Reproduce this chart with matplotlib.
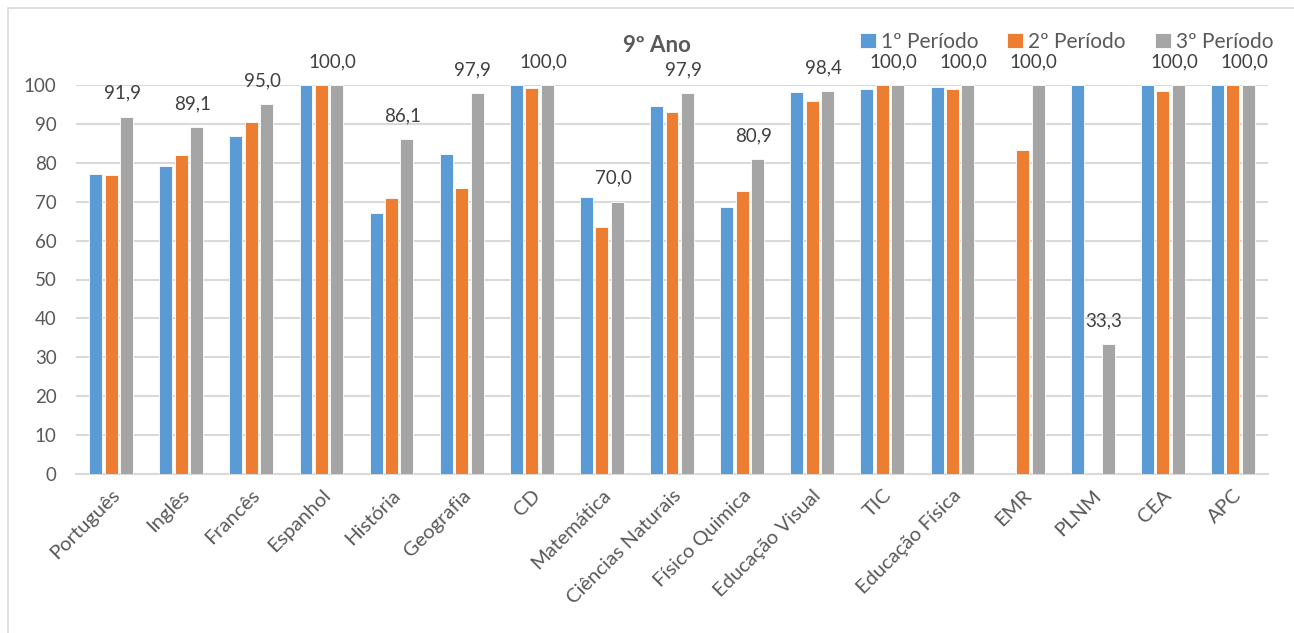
import numpy as np
import matplotlib
matplotlib.use("Agg")
import matplotlib.pyplot as plt
from matplotlib.patches import Rectangle

categories = ["Português", "Inglês", "Francês", "Espanhol", "História", "Geografia",
              "CD", "Matemática", "Ciências Naturais", "Físico Quimica", "Educação Visual",
              "TIC", "Educação Física", "EMR", "PLNM", "CEA", "APC"]
periodo1 = [77.1, 79.1, 86.8, 100.0, 67.0, 82.3, 100.0, 71.2, 94.6, 68.6, 98.3,
            99.0, 99.5, np.nan, 100.0, 100.0, 100.0]
periodo2 = [76.8, 82.0, 90.5, 100.0, 71.0, 73.4, 99.2, 63.4, 93.0, 72.7, 95.8,
            100.0, 99.0, 83.3, np.nan, 98.5, 100.0]
periodo3 = [91.9, 89.1, 95.0, 100.0, 86.1, 97.9, 100.0, 70.0, 97.9, 80.9, 98.4,
            100.0, 100.0, 100.0, 33.3, 100.0, 100.0]
series_names = ["1º Período", "2º Período", "3º Período"]
colors = ["#5B9BD5", "#ED7D31", "#A5A5A5"]
yticks = [0, 10, 20, 30, 40, 50, 60, 70, 80, 90, 100]

plt.rcParams['font.family'] = ['Lato', 'DejaVu Sans']
txt = "#595959"

fig = plt.figure(figsize=(12.94, 6.33), dpi=100)
fig.patches.append(Rectangle((8/1294, -0.1), 1.2, 1 - 8/633 + 0.1, transform=fig.transFigure,
                             facecolor="none", edgecolor="#D9D9D9", linewidth=1.2, zorder=0))
ax = fig.add_axes([76/1294, 1 - 474/633, (1268 - 76)/1294, (474 - 85)/633])
ax.set_facecolor("none")

x = np.arange(len(categories))
w = 0.185
offs = [-0.22, 0.0, 0.22]
data = [periodo1, periodo2, periodo3]
bars = []
for d, o, c, n in zip(data, offs, colors, series_names):
    b = ax.bar(x + o, d, width=w, color=c, label=n, edgecolor="white", linewidth=0.6, zorder=3)
    bars.append(b)

for xi, v in zip(x, periodo3):
    ax.annotate(f"{v:.1f}".replace(".", ","), (xi + offs[2], v), xytext=(-3, 17),
                textcoords="offset points", ha="center", va="center",
                fontsize=13.5, color="#404040", zorder=4)

ax.set_ylim(0, 100)
ax.set_xlim(-0.5, len(categories) - 0.5)
ax.set_yticks(yticks)
ax.yaxis.grid(True, color="#D9D9D9", linewidth=1.5, zorder=0)
ax.set_axisbelow(True)
for s in ["top", "right", "left"]:
    ax.spines[s].set_visible(False)
ax.spines["bottom"].set_color("#D9D9D9")
ax.spines["bottom"].set_linewidth(1.5)
ax.tick_params(axis="both", length=0, labelsize=13.5, labelcolor=txt)
ax.tick_params(axis="y", pad=14)
ax.set_xticks(x)
ax.set_xticklabels(categories, rotation=45, ha="right", rotation_mode="anchor")
ax.tick_params(axis="x", pad=9, labelsize=14.5)

fig.text(657/1294, 1 - 45/633, "9º Ano", ha="center", va="center", fontsize=16,
         fontweight="bold", color=txt)
leg = fig.legend(handles=bars, labels=series_names, loc="upper right",
                 bbox_to_anchor=(1292/1294, 1 - 13/633), ncol=3, frameon=False,
                 fontsize=15, handlelength=0.75, handleheight=0.75, handletextpad=0.25,
                 columnspacing=1.4, labelcolor=txt)

fig.savefig("out.png", dpi=100)
